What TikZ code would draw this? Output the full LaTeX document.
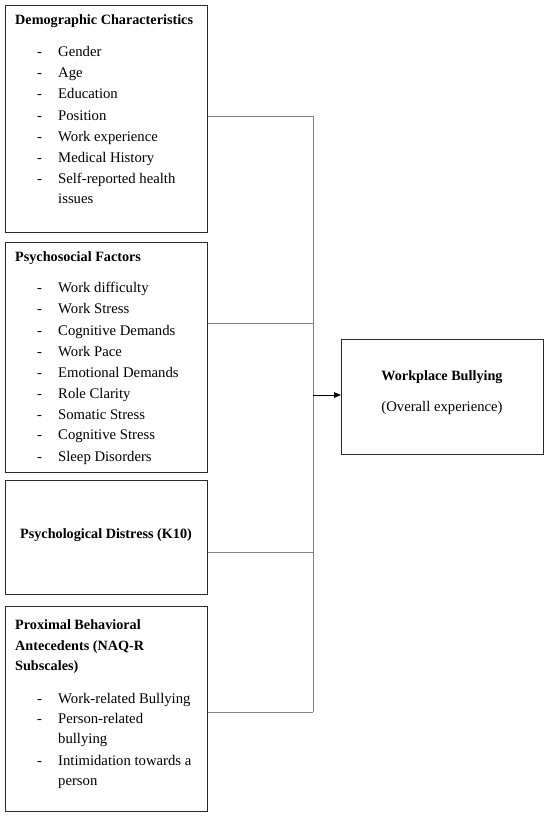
\documentclass[tikz,border=0pt]{standalone}
\usepackage{fontspec}
\setmainfont{Liberation Serif}
\usetikzlibrary{arrows.meta}
\definecolor{boxc}{HTML}{2B2B2B}
\definecolor{linec}{HTML}{808080}
\begin{document}
\begin{tikzpicture}[x=1pt,y=-1pt,
  box/.style={draw=boxc, line width=1.1pt, inner sep=0pt, anchor=north west, fill=white},
  tx/.style={inner sep=0pt, anchor=base west, font=\fontsize{14.7}{17}\selectfont},
  ttl/.style={tx, font=\fontsize{14.2}{17}\selectfont\bfseries},
  conn/.style={draw=linec, line width=0.9pt},
  arr/.style={draw=black, line width=0.8pt, -{Triangle[length=7pt,width=5.5pt]}}]
\useasboundingbox[fill=white] (0,0) rectangle (550,818);

% boxes
\node[box, minimum width=202pt, minimum height=227pt] (demo) at (5,5) {};
\node[box, minimum width=202pt, minimum height=230pt] (psy) at (5,242) {};
\node[box, minimum width=202pt, minimum height=114pt] (dist) at (5,480) {};
\node[box, minimum width=202pt, minimum height=205pt] (prox) at (5,606) {};
\node[box, minimum width=202pt, minimum height=115pt] (wb) at (341,339) {};

% box 1
\node[ttl] (demoT) at (15,25) {Demographic Characteristics};
\foreach \i/\y/\t in {1/57/Gender,2/78/Age,3/99/Education,4/121/Position,5/142/Work experience,6/163/Medical History,7/184/Self-reported health}{
  \node[tx] (demoD\i) at (37,\y) {-};
  \node[tx] (demoI\i) at (58,\y) {\t};
}
\node[tx] (demoI8) at (58,204) {issues};

% box 2
\node[ttl] (psyT) at (15,261) {Psychosocial Factors};
\foreach \i/\y/\t in {1/292/Work difficulty,2/313/Work Stress,3/335/Cognitive Demands,4/356/Work Pace,5/377/Emotional Demands,6/398/Role Clarity,7/419/Somatic Stress,8/439/Cognitive Stress,9/461/Sleep Disorders}{
  \node[tx] (psyD\i) at (37,\y) {-};
  \node[tx] (psyI\i) at (58,\y) {\t};
}

% box 3
\node[ttl, anchor=base] (distT) at (106,538) {Psychological Distress (K10)};

% box 4
\node[ttl] (proxT1) at (15,629) {Proximal Behavioral};
\node[ttl] (proxT2) at (15,650) {Antecedents (NAQ-R};
\node[ttl] (proxT3) at (15,670) {Subscales)};
\node[tx] (proxD1) at (37,703) {-};
\node[tx] (proxI1) at (58,703) {Work-related Bullying};
\node[tx] (proxD2) at (37,723) {-};
\node[tx] (proxI2) at (58,723) {Person-related};
\node[tx] (proxI2b) at (58,743) {bullying};
\node[tx] (proxD3) at (37,765) {-};
\node[tx] (proxI3) at (58,765) {Intimidation towards a};
\node[tx] (proxI3b) at (58,785) {person};

% outcome box
\node[ttl, anchor=base] (wbT) at (442,380) {Workplace Bullying};
\node[tx, anchor=base] (wbS) at (442,411) {(Overall experience)};

% connectors
\coordinate (j1) at (313,116);
\coordinate (j2) at (313,323);
\coordinate (j3) at (313,552);
\coordinate (j4) at (313,712);
\coordinate (ja) at (313,395);
\draw[conn] (demo.east |- j1) -- (j1);
\draw[conn] (psy.east |- j2) -- (j2);
\draw[conn] (dist.east |- j3) -- (j3);
\draw[conn] (prox.east |- j4) -- (j4);
\draw[conn] (j1) -- (j4);
\draw[arr] (ja) -- (wb.west |- ja);
\end{tikzpicture}
\end{document}
